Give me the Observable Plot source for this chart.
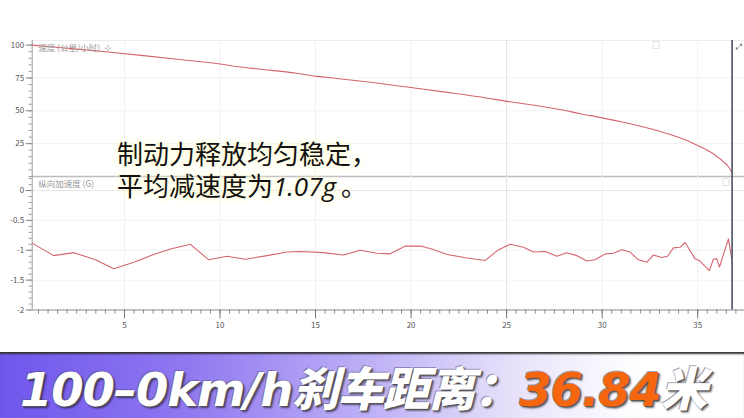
<!DOCTYPE html>
<html><head><meta charset="utf-8">
<script src="https://cdn.jsdelivr.net/npm/d3@7"></script>
<script src="https://cdn.jsdelivr.net/npm/@observablehq/plot@0.6"></script>
<style>
html,body{margin:0;padding:0;background:#fff;}
#wrap{position:relative;width:744px;height:418px;overflow:hidden;background:#fff;font-family:"Noto Sans CJK SC","Noto Sans",sans-serif;}
#topPanel{position:absolute;left:0;top:40px;}
#botPanel{position:absolute;left:0;top:176px;}
.note{position:absolute;left:117px;font-size:26px;line-height:28px;height:28px;color:#111;font-family:"Noto Sans CJK SC",sans-serif;text-shadow:0 0 6px #fffbd0,0 0 10px #fffbd0;white-space:pre;}
.note i{font-family:"Open Sans","Noto Sans",sans-serif;margin-right:5px;}
#banner{position:absolute;left:0;top:352px;width:744px;height:66px;background:linear-gradient(to right,#7056ec 0%,#8f78f0 25%,#bfb1f6 50%,#e9e4fb 70%,#ffffff 86%);box-shadow:inset 0 3px 2px -1px #333;}
#btext{position:absolute;left:20px;top:0px;font-size:46.5px;font-weight:900;font-style:italic;white-space:nowrap;color:#fff;letter-spacing:-1.1px;text-shadow:1px 1px 0 #555,2px 2px 2px rgba(0,0,0,.55),-1px -1px 0 rgba(80,80,120,.5);font-family:"DejaVu Sans","Noto Sans CJK SC",sans-serif;}
#btext .o{color:#f5660f;}
.lab{position:absolute;font-size:8px;color:#999;}
</style></head>
<body><div id="wrap">
<div id="topPanel"></div><div id="botPanel"></div>
<div class="note" style="top:139px;">制动力释放均匀稳定，</div>
<div class="note" style="top:171px;">平均减速度为<i>1.07g</i>。</div>
<div class="lab" style="left:652px;top:39px;">□</div>
<div class="lab" style="left:722px;top:176px;">□</div>
<div class="lab" style="left:736px;top:40px;color:#666;">⤢</div>
<div id="banner"><div id="btext">100–0km/h刹车距离：<span class="o">36.84</span>米</div></div>
</div>
<script>
// speed (km/h) vs distance (m)
const speedDist = [0.17, 2, 4, 6, 8, 10, 11.07, 12, 14, 15.08, 16, 18, 19.79, 22, 24, 25.02, 26, 28, 28.85, 30, 31, 32, 33, 34, 34.43, 35, 35.5, 35.82, 36.1, 36.4, 36.6, 36.78];
const speedKmh  = [100, 97.6, 94.9, 92.0, 88.9, 85.6, 83.3, 81.8, 78.6, 76.2, 74.8, 71.5, 68.1, 63.8, 59.6, 57.2, 55.2, 50.4, 47.8, 44.6, 41.6, 38.2, 34.4, 29.8, 27.4, 23.6, 20.0, 17.3, 14.2, 10.6, 7.6, 3.5];
// longitudinal acceleration (G) vs distance (m)
const accelDist = [0.17, 1.30, 2.35, 3.48, 4.44, 5.49, 6.53, 7.41, 8.45, 9.41, 10.37, 11.33, 12.46, 13.51, 14.20, 15.42, 16.47, 17.34, 18.22, 18.91, 19.70, 20.48, 21.09, 21.88, 22.92, 23.88, 24.58, 25.19, 25.88, 26.41, 27.02, 27.63, 28.15, 28.68, 29.20, 29.63, 30.16, 30.59, 31.03, 31.46, 31.90, 32.34, 32.68, 33.12, 33.42, 33.73, 34.08, 34.34, 34.86, 35.12, 35.61, 35.82, 36.00, 36.14, 36.61, 36.78];
const accelG    = [-0.88, -1.09, -1.04, -1.16, -1.31, -1.20, -1.07, -0.98, -0.90, -1.16, -1.10, -1.15, -1.09, -1.03, -1.02, -1.04, -1.08, -1.00, -1.05, -1.06, -0.93, -0.93, -0.98, -1.07, -1.13, -1.17, -0.99, -0.90, -0.95, -1.03, -1.02, -1.10, -1.04, -1.09, -1.18, -1.16, -1.06, -1.05, -0.99, -1.03, -1.16, -1.20, -1.08, -1.12, -1.10, -0.96, -0.95, -0.87, -1.14, -1.18, -1.34, -1.15, -1.14, -1.28, -0.81, -1.14];
const xTicks = [5, 10, 15, 20, 25, 30, 35];
const speedTicks = [25, 50, 75, 100];
const accelTicks = [0, -0.5, -1, -1.5, -2];
const cursorDist = 36.8;
const speedLabel = "速度 (公里/小时)  ⊹";
const accelLabel = "纵向加速度 (G)";

const speedData = speedDist.map((d, i) => ({d, v: speedKmh[i]}));
const accelData = accelDist.map((d, i) => ({d, g: accelG[i]}));
const xDomain = [0.17, 37.45];
const lineColor = "#d4656f";
const font = "Noto Sans CJK SC, Noto Sans, sans-serif";

const upperChart = Plot.plot({
  width: 744, height: 136, marginLeft: 31.7, marginRight: 0, marginTop: 0, marginBottom: 0,
  style: {fontFamily: font, background: "transparent", overflow: "visible"},
  x: {domain: xDomain, axis: null},
  y: {domain: [0, 103.5], axis: null},
  marks: [
    Plot.ruleY([103.5], {stroke: "#ececec"}),
    Plot.ruleX(xTicks, {stroke: "#f1f1f1"}),
    Plot.ruleX([25], {stroke: "#e3e3e3"}),
    Plot.ruleY(speedTicks.slice(0, 3), {stroke: "#f3f3f3"}),
    Plot.ruleY([0], {stroke: "#bdbdbd", strokeWidth: 1.5}),
    Plot.axisY(d3.range(0, 103, 5), {tickSize: 3, text: null, label: null, stroke: "#999"}),
    Plot.axisY(speedTicks, {tickSize: 6, tickPadding: 2, fontSize: 8, label: null, color: "#555", stroke: "#888"}),
    Plot.ruleX([xDomain[0]], {stroke: "#999"}),
    Plot.line(speedData, {x: "d", y: "v", stroke: lineColor, strokeWidth: 1.1, curve: "monotone-x"}),
    Plot.ruleX([cursorDist], {stroke: "#4b5060", strokeWidth: 1.6}),
    Plot.text([speedLabel], {frameAnchor: "top-left", dx: 6, dy: 4, fontSize: 8.5, fill: "#999", textAnchor: "start"})
  ]
});
document.getElementById("topPanel").appendChild(upperChart);

const lowerChart = Plot.plot({
  width: 744, height: 164, marginLeft: 31.7, marginRight: 0, marginTop: 0, marginBottom: 30.5,
  style: {fontFamily: font, background: "transparent", overflow: "visible"},
  x: {domain: xDomain, axis: null},
  y: {domain: [-2, 0.235], axis: null},
  marks: [
    Plot.ruleX(xTicks, {stroke: "#f1f1f1"}),
    Plot.ruleX([25], {stroke: "#e3e3e3"}),
    Plot.ruleY([0], {stroke: "#e6e6e6"}),
    Plot.ruleY([-0.5, -1, -1.5], {stroke: "#f3f3f3"}),
    Plot.axisY(d3.range(-2, 0.21, 0.1), {tickSize: 3, text: null, label: null, stroke: "#999"}),
    Plot.axisY(accelTicks, {tickSize: 6, tickPadding: 2, fontSize: 8, label: null, color: "#555", stroke: "#888", tickFormat: d => String(d)}),
    Plot.ruleX([xDomain[0]], {stroke: "#999"}),
    Plot.ruleY([-2], {stroke: "#c4c4c4", strokeWidth: 2}),
    Plot.axisX(d3.range(0.5, 37.5, 0.5), {tickSize: 4, text: null, label: null, stroke: "#888"}),
    Plot.axisX(xTicks, {tickSize: 9, tickPadding: 3, fontSize: 8, label: null, color: "#555", stroke: "#777"}),
    Plot.line(accelData, {x: "d", y: "g", stroke: lineColor, strokeWidth: 1.1}),
    Plot.ruleX([cursorDist], {y1: 0.235, y2: -2, stroke: "#4b5060", strokeWidth: 1.6}),
    Plot.text([accelLabel], {frameAnchor: "top-left", dx: 6, dy: 4, fontSize: 8.5, fill: "#999", textAnchor: "start"})
  ]
});
document.getElementById("botPanel").appendChild(lowerChart);
</script>
</body></html>
